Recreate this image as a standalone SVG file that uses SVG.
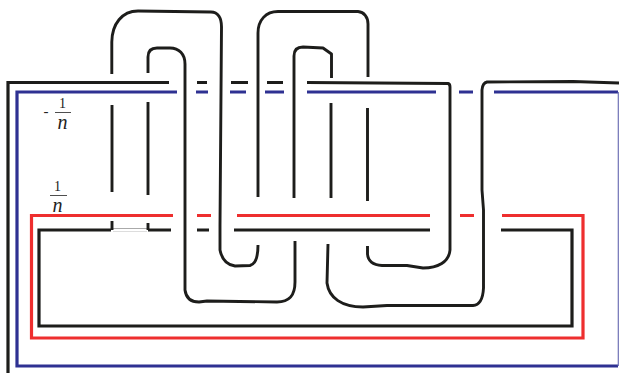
<svg xmlns="http://www.w3.org/2000/svg" width="619" height="373" viewBox="0 0 619 373">
<style>
.k{fill:none;stroke:#1d1d1b;stroke-width:3.200;stroke-linejoin:miter}
.t{fill:none;stroke:#1d1d1b;stroke-width:2.900;stroke-linejoin:round}
.b{fill:none;stroke:#2e3192;stroke-width:3.200}
.r{fill:none;stroke:#ee2e2e;stroke-width:3.200}
.m{font-family:"Liberation Serif",serif;fill:#222}
.bar{stroke:#222;stroke-width:.8}
</style>
<rect width="619" height="373" fill="#fff"/>
<g id="connectors">
<g id="blue">
<path class="b" d="M177 92H17V366H618M618 92H494"/>
<path d="M618.300 92V366" fill="none" stroke="#6f71b5" stroke-width="1.200"/>
<path class="b" d="M196 92H208M230 92H246M265 92H284M307 92H436M459 92H473"/>
</g>
<g id="red">
<path class="r" d="M173 215.500H31.500V338H583V215.500H502"/>
<path class="r" d="M197 215.500H211M237 215.500H430M460 215.500H474"/>
</g>
<g id="black-frames">
<path class="k" d="M8 373V82.500H169"/>
<path class="k" d="M197 82.500H207M231 82.500H248M267 82.500H283"/>
<path class="k" d="M171 230H148M111 230H39V326H572V230H501"/>
<path class="k" d="M197 230H209M234 230H430"/>
<path d="M113 228.500H147" fill="none" stroke="#aaa" stroke-width="1"/>
<path d="M113 231.500H147" fill="none" stroke="#ddd" stroke-width="1"/>
</g>
<g id="strands">
<path class="t" d="M111.800 74V42C112 24 122 11 138 11L211 12C218 12 221.500 18 221.500 27L220 225V250C222 260 227 265 235 266L250 265.500C256 264 258 256 258 245"/>
<path class="t" d="M148 73V57C148 51 151 48 157 48H170C179 48 185 54 185 64V290C186 298 191 302 199 302L207 301 277 302C289 302 295 296 295 282V241"/>
<path class="t" d="M112 105V192M112 221V230M148 102V195M148 223V230"/>
<path class="t" d="M258 197V33C258 20 266 11.500 278 11.500H358C364 12 368 17 368 24V77"/>
<path class="t" d="M294 198V56C294 50 297 47 303 47L323 48 331.500 54V78"/>
<path class="t" d="M331 103V198M367.500 108V201"/>
<path class="t" d="M307 82.500 448 83.500Q450 84 450 87V250C449 262 438 268 423 268L407 265.500 382 265.500C373 265 368 261 367.500 254V246"/>
<path class="t" d="M328 244L327 283C329 298 342 307 363 307L387 305.500H473C480 305 483 298 483.500 288V210L482 190V90Q482.500 83 487 82L573 81.500 619 83"/>
</g>
</g>
<g id="label-minus">
<text class="m" x="43.500" y="116" font-size="15">-</text>
<text class="m" x="62.500" y="107.500" font-size="14" text-anchor="middle">1</text>
<line class="bar" x1="55" y1="112.500" x2="71" y2="112.500"/>
<text class="m" x="62.500" y="128.500" font-size="20" font-style="italic" text-anchor="middle">n</text>
</g>
<g id="label-plus">
<text class="m" x="57.500" y="190.500" font-size="14" text-anchor="middle">1</text>
<line class="bar" x1="50" y1="195.500" x2="67" y2="195.500"/>
<text class="m" x="57.500" y="211.500" font-size="20" font-style="italic" text-anchor="middle">n</text>
</g>
</svg>
